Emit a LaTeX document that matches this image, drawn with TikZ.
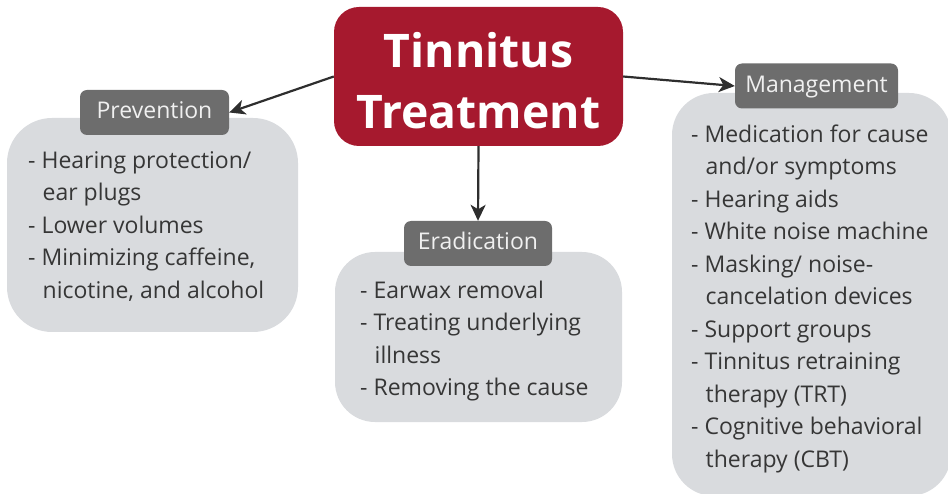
\documentclass[tikz,border=0pt]{standalone}
\usepackage{fontspec}
\setmainfont{Open Sans}
\usetikzlibrary{arrows.meta}
\definecolor{mainred}{HTML}{A6192E}
\definecolor{labelgray}{HTML}{6D6D6D}
\definecolor{boxgray}{HTML}{D9DBDE}
\definecolor{bodytext}{HTML}{363636}
\definecolor{arrowc}{HTML}{2E2E2E}
\tikzset{
  mainbox/.style={fill=mainred, rounded corners=25pt, inner sep=0pt, text=white,
    font=\bfseries\fontsize{46.3}{61}\selectfont, align=center,
    minimum width=289pt, minimum height=139pt},
  catlabel/.style={fill=labelgray, rounded corners=7pt, inner sep=0pt, text=white!94!black,
    font=\fontsize{23}{32.5}\selectfont, minimum height=45pt},
  bgbox/.style={fill=boxgray, inner sep=0pt},
  bodytxt/.style={anchor=north west, inner sep=0pt, text=bodytext, align=left,
    font=\fontsize{23}{32.5}\selectfont},
  conn/.style={draw=arrowc, line width=2.2pt, -{Stealth[length=16pt, width=15pt, inset=4.5pt]}}
}
\newcommand{\ind}{\hspace*{14.5pt}}
\begin{document}
\begin{tikzpicture}[x=1pt, y=-1pt]
\useasboundingbox (0,0) rectangle (948,494);
% background boxes
\node[bgbox, rounded corners=45pt, minimum width=291pt, minimum height=214pt] (prevB) at (152.5,225) {};
\node[bgbox, rounded corners=40pt, minimum width=287pt, minimum height=170pt] (eradB) at (478.5,337) {};
\node[bgbox, rounded corners=42pt, minimum width=279pt, minimum height=403pt] (mgmtB) at (811.5,294.5) {};
% main node
\node[mainbox] (main) at (478.5,76.5) {\strut Tinnitus\\Treatment};
% labels
\node[catlabel, minimum width=149pt] (prevL) at (154.5,112.5) {\strut Prevention};
\node[catlabel, minimum width=148pt] (eradL) at (478,243.5) {\strut Eradication};
\node[catlabel, minimum width=163pt] (mgmtL) at (816.5,86) {\strut Management};
% text
\node[bodytxt] (prevT) at (28,145.25) {\strut - Hearing protection/\\ \ind ear plugs\\- Lower volumes\\- Minimizing caffeine,\\ \ind nicotine, and alcohol};
\node[bodytxt] (eradT) at (360,275.25) {\strut - Earwax removal\\- Treating underlying\\ \ind illness\\- Removing the cause};
\node[bodytxt] (mgmtT) at (691,119.25) {\strut - Medication for cause\\ \ind and/or symptoms\\- Hearing aids\\- White noise machine\\- Masking/ noise-\\ \ind cancelation devices\\- Support groups\\- Tinnitus retraining\\ \ind therapy (TRT)\\- Cognitive behavioral\\ \ind therapy (CBT)};
% connectors
\draw[conn] (main.west) -- (prevL.east);
\draw[conn] (main.south) -- (eradL.north);
\draw[conn] (main.east) -- (mgmtL.west);
\end{tikzpicture}
\end{document}
